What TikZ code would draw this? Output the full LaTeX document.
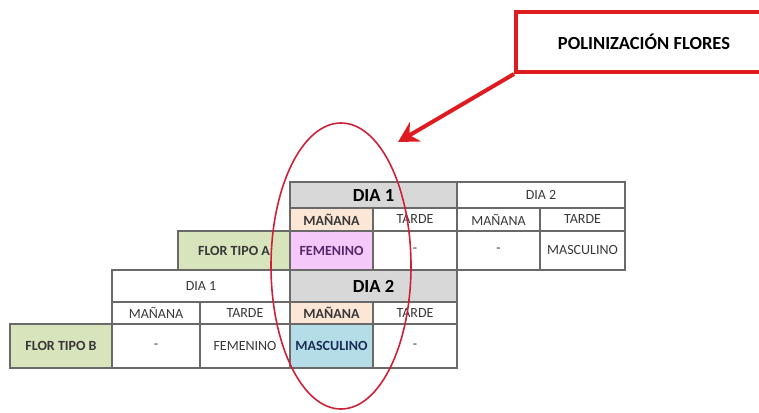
\documentclass[tikz,border=0pt]{standalone}
\usepackage{fontspec}
\setmainfont{Carlito}
\usetikzlibrary{shapes.geometric, arrows.meta, positioning}

\definecolor{headgray}{RGB}{216,216,216}
\definecolor{peach}{RGB}{252,230,214}
\definecolor{olive}{RGB}{216,228,188}
\definecolor{lilac}{RGB}{245,200,250}
\definecolor{skyblue}{RGB}{180,221,232}
\definecolor{gridline}{RGB}{105,105,105}
\definecolor{boxred}{RGB}{222,28,32}
\definecolor{ovalred}{RGB}{206,32,58}

\begin{document}
\begin{tikzpicture}[
    x = 1pt, y = -1pt,
    node distance = 0pt,
    cell/.style = {rectangle, draw=gridline, line width=1.2pt, inner sep=0pt, outer sep=0pt,
                   text=black!78, font=\fontsize{14}{16}\selectfont},
    headrow/.style = {cell, minimum height=26pt},
    subrow/.style = {cell, minimum height=23pt},
    datarow/.style = {cell, minimum height=39pt},
    bighead/.style = {fill=headgray, text=black, font=\fontsize{18.5}{20}\selectfont\bfseries},
    boldcell/.style = {font=\fontsize{14}{16}\selectfont\bfseries},
    flor/.style = {fill=olive, boldcell},
    arrow/.style = {-{Stealth[length=20pt, width=22pt]}, line width=4pt, draw=boxred}
]
\useasboundingbox (0,0) rectangle (759,412);

% Define nodes: upper table (flor tipo A)
\node[headrow, bighead, minimum width=167pt, anchor=north west] (a-dia1) at (290,182) {DIA 1};
\node[headrow, minimum width=168pt, right=of a-dia1] (a-dia2) {DIA 2};
\node[subrow, minimum width=83pt, fill=peach, boldcell, anchor=north west] (a-m1) at (290,208) {MAÑANA};
\node[subrow, minimum width=84pt, right=of a-m1] (a-t1) {TARDE};
\node[subrow, minimum width=83pt, right=of a-t1] (a-m2) {MAÑANA};
\node[subrow, minimum width=85pt, right=of a-m2] (a-t2) {TARDE};
\node[datarow, flor, minimum width=112pt, anchor=north west] (a-flor) at (178,231) {FLOR TIPO A};
\node[datarow, minimum width=83pt, right=of a-flor, fill=lilac, boldcell,
      text={rgb,255:red,85;green,40;blue,105}] (a-fem) {FEMENINO};
\node[datarow, minimum width=84pt, right=of a-fem] (a-x1) {-};
\node[datarow, minimum width=83pt, right=of a-x1] (a-x2) {-};
\node[datarow, minimum width=85pt, right=of a-x2] (a-masc) {MASCULINO};

% lower table (flor tipo B)
\node[headrow, minimum width=178pt, minimum height=32pt, anchor=north west] (b-dia1) at (112,270) {DIA 1};
\node[headrow, bighead, minimum width=167pt, minimum height=32pt, right=of b-dia1] (b-dia2) {DIA 2};
\node[subrow, minimum width=88pt, minimum height=22pt, anchor=north west] (b-m1) at (112,302) {MAÑANA};
\node[subrow, minimum width=90pt, minimum height=22pt, right=of b-m1] (b-t1) {TARDE};
\node[subrow, minimum width=83pt, minimum height=22pt, right=of b-t1, fill=peach, boldcell] (b-m2) {MAÑANA};
\node[subrow, minimum width=84pt, minimum height=22pt, right=of b-m2] (b-t2) {TARDE};
\node[datarow, flor, minimum width=102pt, minimum height=44pt, anchor=north west] (b-flor) at (10,324) {FLOR TIPO B};
\node[datarow, minimum width=88pt, minimum height=44pt, right=of b-flor] (b-x1) {-};
\node[datarow, minimum width=90pt, minimum height=44pt, right=of b-x1] (b-fem) {FEMENINO};
\node[datarow, minimum width=83pt, minimum height=44pt, right=of b-fem, fill=skyblue, boldcell,
      text={rgb,255:red,25;green,45;blue,85}] (b-masc) {MASCULINO};
\node[datarow, minimum width=84pt, minimum height=44pt, right=of b-masc] (b-x2) {-};

% callout and oval
\node[ellipse, draw=ovalred, line width=1.6pt, minimum width=140pt, minimum height=286pt] (oval) at (341,266) {};
\node[rectangle, draw=boxred, line width=4pt, fill=white, minimum width=256pt, minimum height=60pt,
      anchor=north west, font=\fontsize{18.5}{21}\selectfont\bfseries] (title) at (514,10) {POLINIZACIÓN FLORES};
\coordinate (tip) at (398,142);

% Draw arrows
\draw[arrow] (title.south west) -- (tip);

\end{tikzpicture}
\end{document}
